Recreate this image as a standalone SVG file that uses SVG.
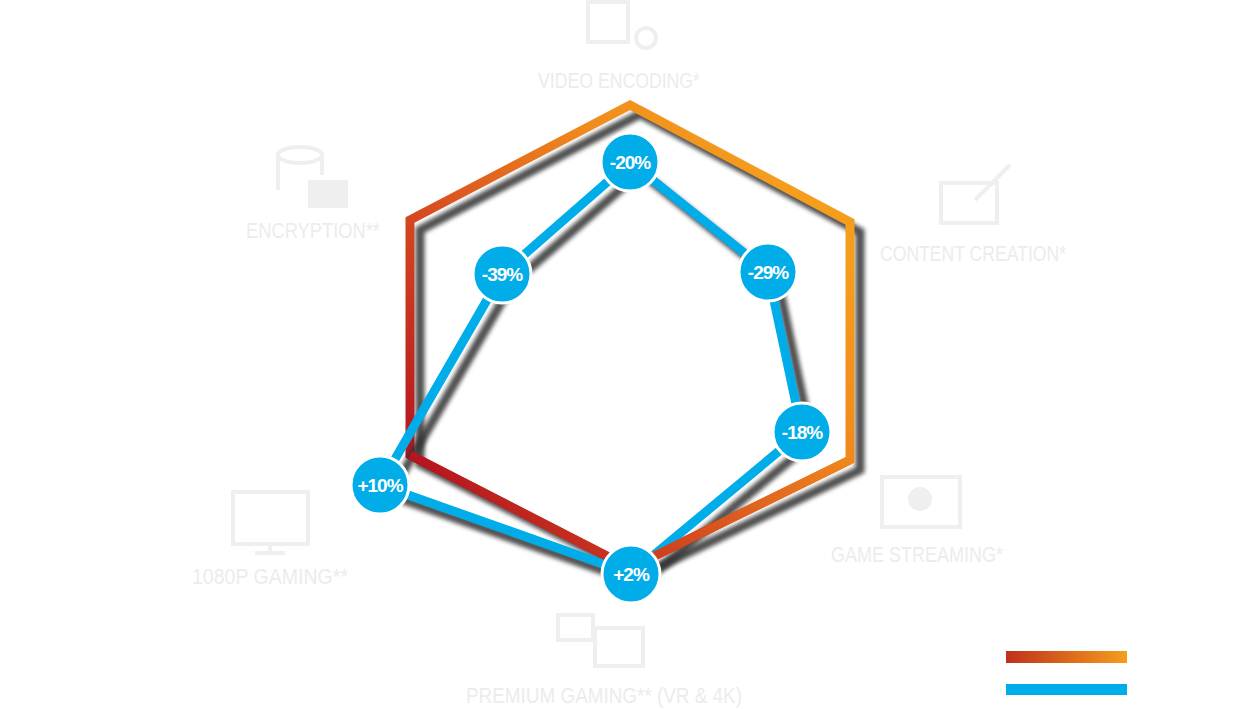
<svg xmlns="http://www.w3.org/2000/svg" width="1260" height="709" viewBox="0 0 1260 709">
<style>
.lbl{font-family:"Liberation Sans",Arial,sans-serif;font-size:22px;fill:#ececec;text-anchor:middle}
.ic{fill:none;stroke:#efefef;stroke-width:4}
.icf{fill:#efefef}
.bub circle{fill:#00ade9;stroke:#fff;stroke-width:3}
.bub text{font-family:"Liberation Sans",Arial,sans-serif;font-weight:bold;font-size:19px;fill:#fff;text-anchor:middle;letter-spacing:-1px}
</style>
<defs>
<linearGradient id="og" gradientUnits="userSpaceOnUse" x1="420" y1="480" x2="780" y2="180">
<stop offset="0" stop-color="#b3121f"/><stop offset="0.4" stop-color="#d9501f"/><stop offset="0.75" stop-color="#f08a1d"/><stop offset="1" stop-color="#f59d1d"/>
</linearGradient>
<linearGradient id="lg" x1="0" x2="1"><stop offset="0" stop-color="#c0301c"/><stop offset="1" stop-color="#f59d1d"/></linearGradient>
<filter id="sh" x="-10%" y="-10%" width="120%" height="120%"><feGaussianBlur stdDeviation="2"/></filter>
</defs>
<rect width="1260" height="709" fill="#fff"/>
<g id="labels">
<g id="video"><rect class="ic" x="588" y="2" width="40" height="40"/><circle class="ic" cx="646" cy="38" r="10"/><text class="lbl" x="619" y="88" textLength="162" lengthAdjust="spacingAndGlyphs">VIDEO ENCODING*</text></g>
<g id="encryption"><ellipse class="ic" cx="300" cy="155" rx="22" ry="8"/><path class="ic" d="M278 155v35M322 155v20"/><rect class="icf" x="308" y="180" width="40" height="28"/><text class="lbl" x="313" y="238" textLength="134" lengthAdjust="spacingAndGlyphs">ENCRYPTION**</text></g>
<g id="content"><rect class="ic" x="941" y="183" width="56" height="40"/><path class="ic" d="M975 200l35-35"/><text class="lbl" x="973" y="261" textLength="186" lengthAdjust="spacingAndGlyphs">CONTENT CREATION*</text></g>
<g id="streaming"><rect class="ic" x="882" y="477" width="78" height="50"/><circle class="icf" cx="920" cy="499" r="12"/><text class="lbl" x="917" y="562" textLength="172" lengthAdjust="spacingAndGlyphs">GAME STREAMING*</text></g>
<g id="g1080"><rect class="ic" x="233" y="492" width="75" height="52"/><path class="ic" d="M270 546v7M255 553h30"/><text class="lbl" x="270" y="584" textLength="156" lengthAdjust="spacingAndGlyphs">1080P GAMING**</text></g>
<g id="premium"><rect class="ic" x="558" y="615" width="35" height="25"/><rect class="ic" x="595" y="628" width="48" height="38"/><text class="lbl" x="604" y="703" textLength="276" lengthAdjust="spacingAndGlyphs">PREMIUM GAMING** (VR &amp; 4K)</text></g>
</g>
<g id="connectors" fill="none" stroke-linejoin="miter" stroke-width="9">
<polygon points="640,114 860,232 860,470 640,576 420,464 420,230" stroke="#333" opacity="0.85" filter="url(#sh)"/>
<polygon points="630,105 850,222 850,460 630,568 410,455 410,220" stroke="url(#og)"/>
<polygon points="640,172 778,282 812,442 641,584 390,495 512,284" stroke="#333" opacity="0.85" filter="url(#sh)"/>
<polygon points="630,162 768,272 802,432 631,574 380,485 502,274" stroke="#00ade9"/>
<polyline points="410,455 630,568 850,460" stroke="url(#og)"/>
</g>
<g class="bub">
<g id="n1"><circle cx="630" cy="162" r="29"/><text x="630" y="169">-20%</text></g>
<g id="n2"><circle cx="768" cy="272" r="29"/><text x="768" y="279">-29%</text></g>
<g id="n3"><circle cx="802" cy="432" r="29"/><text x="802" y="439">-18%</text></g>
<g id="n4"><circle cx="631" cy="574" r="29"/><text x="631" y="581">+2%</text></g>
<g id="n5"><circle cx="380" cy="485" r="29"/><text x="380" y="492">+10%</text></g>
<g id="n6"><circle cx="502" cy="274" r="29"/><text x="502" y="281">-39%</text></g>
</g>
<g id="legend">
<rect x="1006" y="651" width="121" height="12" fill="url(#lg)"/>
<rect x="1006" y="684" width="121" height="11" fill="#00ade9"/>
</g>
</svg>
